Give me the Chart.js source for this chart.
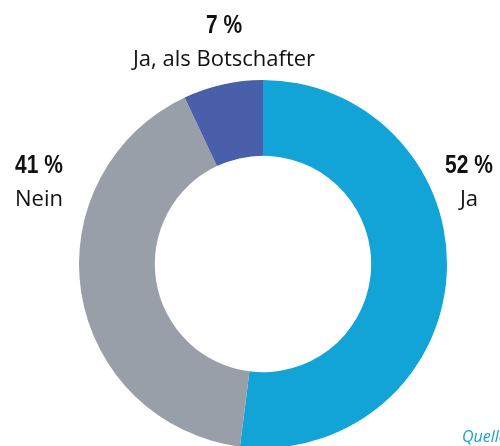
<!DOCTYPE html>
<html>
<head>
<meta charset="utf-8">
<script src="https://cdn.jsdelivr.net/npm/chart.js@4/dist/chart.umd.min.js"></script>
<style>
  html, body { margin: 0; padding: 0; background: #fff; overflow: hidden; }
  #wrap { position: relative; width: 500px; height: 446px; }
</style>
</head>
<body>
<div id="wrap"><canvas id="donut"></canvas></div>
<script>
// answer categories and shares (%)
const categories = ['Ja', 'Nein', 'Ja, als Botschafter'];
const shares = [52, 41, 7];
const colors = ['#12a4d7', '#999fa9', '#4a5fa9'];
const sourceNote = 'Quelle:';

// where each label block sits (centre x, baseline of the % line)
const labelSpots = [
  { x: 469, y: 173 },
  { x: 39, y: 173 },
  { x: 224, y: 33 },
];

const labelPlugin = {
  id: 'sliceLabels',
  afterDraw(chart) {
    const ctx = chart.ctx;
    ctx.save();
    ctx.fillStyle = '#111';
    ctx.textAlign = 'center';
    ctx.textBaseline = 'alphabetic';
    categories.forEach((cat, i) => {
      const p = labelSpots[i];
      // condensed bold look: squeeze horizontally
      ctx.save();
      ctx.translate(p.x, p.y);
      ctx.scale(0.84, 1);
      ctx.font = 'bold 25px "Liberation Sans", sans-serif';
      ctx.fillText(shares[i] + ' %', 0, 0);
      ctx.restore();
      ctx.font = '22px "Open Sans", sans-serif';
      ctx.fillText(cat, p.x, p.y + 33);
    });
    ctx.font = 'italic 16px "Open Sans", sans-serif';
    ctx.fillStyle = '#1a9fd4';
    ctx.textAlign = 'left';
    ctx.fillText(sourceNote, 462, 442);
    ctx.restore();
  }
};

const ctx = document.getElementById('donut').getContext('2d');
new Chart(ctx, {
  type: 'doughnut',
  data: {
    labels: categories,
    datasets: [{
      data: shares,
      backgroundColor: colors,
      borderWidth: 0,
      clip: false,
    }]
  },
  options: {
    responsive: true,
    maintainAspectRatio: false,
    animation: false,
    radius: 184,
    cutout: 107,
    layout: { padding: { left: 26, top: 82, right: 0, bottom: 0 } },
    plugins: {
      legend: { display: false },
      tooltip: { enabled: false },
    },
  },
  plugins: [labelPlugin],
});
</script>
</body>
</html>
